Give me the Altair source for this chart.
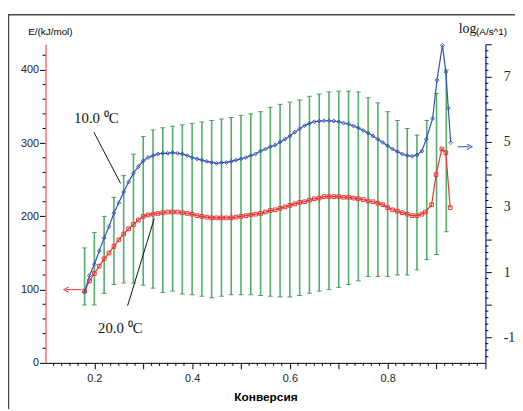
import altair as alt
import pandas as pd

# ---------------- data ----------------
blue_conv = [0.18, 0.19, 0.20, 0.21, 0.22, 0.23, 0.24, 0.25, 0.26, 0.27,
             0.28, 0.29, 0.30, 0.31, 0.32, 0.33, 0.34, 0.35, 0.36, 0.37,
             0.38, 0.39, 0.40, 0.41, 0.42, 0.43, 0.44, 0.45, 0.46, 0.47,
             0.48, 0.49, 0.50, 0.51, 0.52, 0.53, 0.54, 0.55, 0.56, 0.57,
             0.58, 0.59, 0.60, 0.61, 0.62, 0.63, 0.64, 0.65, 0.66, 0.67,
             0.68, 0.69, 0.70, 0.71, 0.72, 0.73, 0.74, 0.75, 0.76, 0.77,
             0.78, 0.79, 0.80, 0.81, 0.82, 0.83, 0.84, 0.85, 0.86,
             0.870, 0.879, 0.892, 0.901, 0.912, 0.919, 0.924, 0.929]
blue_logA = [0.38, 0.89, 1.24, 1.65, 2.05, 2.40, 2.81, 3.13, 3.46, 3.77,
             4.04, 4.24, 4.42, 4.52, 4.58, 4.63, 4.65, 4.65, 4.67, 4.65,
             4.63, 4.58, 4.52, 4.48, 4.44, 4.40, 4.37, 4.34, 4.36, 4.37,
             4.40, 4.44, 4.48, 4.52, 4.58, 4.63, 4.72, 4.78, 4.85, 4.90,
             5.00, 5.08, 5.18, 5.30, 5.40, 5.50, 5.57, 5.62, 5.64, 5.65,
             5.65, 5.64, 5.62, 5.58, 5.55, 5.49, 5.43, 5.35, 5.27, 5.18,
             5.08, 4.98, 4.88, 4.78, 4.70, 4.63, 4.58, 4.56, 4.60,
             4.72, 5.08, 5.72, 6.90, 7.97, 7.15, 6.04, 4.98]

red_conv = [0.18, 0.19, 0.20, 0.21, 0.22, 0.23, 0.24, 0.25, 0.26, 0.27,
            0.28, 0.29, 0.30, 0.31, 0.32, 0.33, 0.34, 0.35, 0.36, 0.37,
            0.38, 0.39, 0.40, 0.41, 0.42, 0.43, 0.44, 0.45, 0.46, 0.47,
            0.48, 0.49, 0.50, 0.51, 0.52, 0.53, 0.54, 0.55, 0.56, 0.57,
            0.58, 0.59, 0.60, 0.61, 0.62, 0.63, 0.64, 0.65, 0.66, 0.67,
            0.68, 0.69, 0.70, 0.71, 0.72, 0.73, 0.74, 0.75, 0.76, 0.77,
            0.78, 0.79, 0.80, 0.81, 0.82, 0.83, 0.84, 0.85, 0.86,
            0.870, 0.877, 0.890, 0.899, 0.911, 0.919, 0.928]
red_E = [98, 112, 122, 132, 142, 150, 159, 168, 176, 183,
         189, 195, 200, 202, 203, 204, 205, 206, 206, 206,
         205, 204, 203, 201, 200, 199, 198, 198, 198, 198,
         198, 199, 200, 201, 202, 203, 204, 206, 208, 209,
         211, 213, 215, 217, 219, 220, 222, 224, 225, 227,
         227, 227, 227, 226, 226, 225, 224, 223, 221, 220,
         218, 216, 212, 209, 207, 205, 203, 201, 201,
         203, 206, 216, 257, 292, 287, 212]

bar_conv = [0.18, 0.20, 0.22, 0.24, 0.26, 0.28, 0.30, 0.32, 0.34, 0.36,
            0.38, 0.40, 0.42, 0.44, 0.46, 0.48, 0.50, 0.52, 0.54, 0.56,
            0.58, 0.60, 0.62, 0.64, 0.66, 0.68, 0.70, 0.72, 0.74, 0.76,
            0.78, 0.80, 0.82, 0.84, 0.86, 0.88, 0.90, 0.92]
bar_top = [157, 178, 200, 226, 256, 285, 309, 318, 321, 323,
           325, 327, 329, 331, 333, 335, 338, 340, 343, 349,
           353, 356, 359, 364, 367, 370, 371, 371, 370, 362,
           355, 343, 331, 320, 311, 331, 368, 400]
bar_bottom = [79, 79, 95, 107, 109, 109, 106, 102, 96, 98,
              94, 93, 91, 89, 91, 93, 93, 93, 92, 91,
              90, 90, 92, 95, 98, 100, 103, 107, 112, 118,
              118, 118, 120, 120, 127, 141, 148, 179]

label_text = ["10.0 \u2070C", "20.0 \u2070C"]
label_conv = [0.204, 0.253]
label_E = [334, 47]
leader_conv = [0.199, 0.268]
leader_conv2 = [0.2537, 0.3225]
leader_E = [315, 78]
leader_E2 = [245, 197]

# axis tick positions
x_major = [0.2, 0.3, 0.4, 0.5, 0.6, 0.7, 0.8, 0.9, 1.0]
x_minor = [round(0.1 + k / 60, 5) for k in range(55) if k % 6 != 0]
yl_major = [0, 100, 200, 300, 400]
yl_minor = [v for v in range(20, 421, 20) if v % 100 != 0]
yr_major = [-1, 0, 1, 2, 3, 4, 5, 6, 7, 8]
yr_minor = [round(-1.6 + 0.2 * k, 2) for k in range(49) if k % 5 != 3]

# ---------------- tables ----------------
blue_df = pd.DataFrame({"conv": blue_conv, "logA": blue_logA})
red_df = pd.DataFrame({"conv": red_conv, "E": red_E})
bar_df = pd.DataFrame({"conv": bar_conv, "top": bar_top, "bottom": bar_bottom})
lab_df = pd.DataFrame({"conv": label_conv, "E": label_E, "text": label_text})
lead_df = pd.DataFrame({"conv": leader_conv, "conv2": leader_conv2,
                        "E": leader_E, "E2": leader_E2})
red_arrow_df = pd.DataFrame({"conv": [0.1728], "conv2": [0.1425], "E": [100]})
blue_arrow_df = pd.DataFrame({"conv": [0.9435], "conv2": [0.9678], "logA": [4.85]})
xminor_df = pd.DataFrame({"conv": x_minor})
ylminor_df = pd.DataFrame({"E": yl_minor})
yrminor_df = pd.DataFrame({"logA": yr_minor})
one = alt.Data(values=[{"a": 1}])

W, H = 446, 323
SANS = "Liberation Sans"
SERIF = "Liberation Serif"
RED = "#f03030"
BLUE = "#3050b8"
GREEN = "#52ad68"
DGREEN = "#1d7a30"

x_scale = alt.Scale(domain=[0.1, 1.0], nice=False, zero=False)
yl_scale = alt.Scale(domain=[0, 435], nice=False, zero=False)
yr_scale = alt.Scale(domain=[-1.79, 8.0], nice=False, zero=False)

x_axis = alt.Axis(
    values=x_major, grid=False, title="Конверсия",
    labelExpr="(datum.value > 0.15 && datum.value < 0.95 && abs(datum.value*5 - round(datum.value*5)) < 0.001) ? format(datum.value, '.1f') : ''",
    tickSize=6, labelOverlap=False, labelFlush=False, labelFont=SANS,
    labelFontSize=11, labelColor="#222", labelPadding=4, domainColor="#000",
    tickColor="#000", titleFont=SANS, titleFontSize=12, titleFontWeight="bold",
    titleColor="#000", titlePadding=8,
)
yl_axis = alt.Axis(
    values=yl_major, grid=False, orient="left", title="E/(kJ/mol)",
    tickSize=6, labelOverlap=False, labelFlush=False, labelFont=SANS,
    labelFontSize=11, labelColor="#222", labelPadding=1, domainColor="#ff6a6a",
    domainWidth=1.5, tickColor="#000", titleAngle=0, titleAlign="left",
    titleBaseline="middle", titleX=-18, titleY=-13, titleFont=SANS,
    titleFontSize=10, titleFontWeight="normal", titleColor="#000",
)
yr_axis = alt.Axis(
    values=yr_major, grid=False, orient="right", title="(A/s^1)",
    labelExpr="abs(round(datum.value) % 2) == 1 ? ('' + datum.value) : ''",
    tickSize=6, labelOverlap=False, labelFlush=False, labelFont=SERIF,
    labelFontSize=14, labelColor="#222", labelPadding=12, domainColor="#2a4ad0",
    domainWidth=1.5, tickColor="#000", titleAngle=0, titleAlign="left",
    titleBaseline="middle", titleX=-10, titleY=-13, titleFont=SANS,
    titleFontSize=10, titleFontWeight="normal", titleColor="#000",
)

# every layer shares the same x axis definition (x is a shared scale)
X = lambda f: alt.X(f, scale=x_scale, axis=x_axis)
yl = lambda f: alt.Y(f, scale=yl_scale, axis=None)
yr = lambda f: alt.Y(f, scale=yr_scale, axis=None)

# ---------------- axis carriers (invisible) ----------------
yl_axis_layer = alt.Chart(bar_df).mark_point(opacity=0).encode(
    x=X("conv:Q"), y=alt.Y("top:Q", scale=yl_scale, axis=yl_axis))
yr_axis_layer = alt.Chart(blue_df).mark_point(opacity=0).encode(
    x=X("conv:Q"), y=alt.Y("logA:Q", scale=yr_scale, axis=yr_axis))

# ---------------- left (E) layers ----------------
bars = alt.Chart(bar_df).mark_rule(color=GREEN, strokeWidth=1.6).encode(
    x=X("conv:Q"), y=yl("top:Q"), y2="bottom:Q")
cap_top = alt.Chart(bar_df).mark_tick(color=DGREEN, orient="horizontal", size=5, thickness=1).encode(
    x=X("conv:Q"), y=yl("top:Q"))
cap_bot = alt.Chart(bar_df).mark_tick(color=DGREEN, orient="horizontal", size=5, thickness=1).encode(
    x=X("conv:Q"), y=yl("bottom:Q"))
red_line = alt.Chart(red_df).mark_line(color=RED, strokeWidth=1.2).encode(
    x=X("conv:Q"), y=yl("E:Q"))
red_pts = alt.Chart(red_df).mark_point(shape="square", filled=False, color=RED,
                                       size=14, strokeWidth=1, opacity=1).encode(
    x=X("conv:Q"), y=yl("E:Q"))
leaders = alt.Chart(lead_df).mark_rule(color="#111", strokeWidth=1).encode(
    x=X("conv:Q"), x2="conv2:Q", y=yl("E:Q"), y2="E2:Q")
labels = alt.Chart(lab_df).mark_text(font=SERIF, fontSize=15, color="#111",
                                     align="center", baseline="middle").encode(
    x=X("conv:Q"), y=yl("E:Q"), text="text:N")
red_arrow = alt.Chart(red_arrow_df).mark_rule(color=RED, strokeWidth=1).encode(
    x=X("conv:Q"), x2="conv2:Q", y=yl("E:Q"))
red_head = alt.Chart(red_arrow_df).mark_point(shape="M1,-1L-1,0L1,1", filled=False,
                                              color=RED, size=30, strokeWidth=1, opacity=1).encode(
    x=X("conv2:Q"), y=yl("E:Q"))
yl_minor_ticks = alt.Chart(ylminor_df).mark_rule(color="#000", strokeWidth=1, clip=False).encode(
    x=alt.value(0), x2=alt.value(-3), y=yl("E:Q"))
x_minor_ticks = alt.Chart(xminor_df).mark_rule(color="#000", strokeWidth=1, clip=False).encode(
    x=X("conv:Q"), y=alt.value(H), y2=alt.value(H + 3))

# ---------------- right (log A) layers ----------------
blue_line = alt.Chart(blue_df).mark_line(color=BLUE, strokeWidth=1.2).encode(
    x=X("conv:Q"), y=yr("logA:Q"))
blue_pts = alt.Chart(blue_df).mark_point(shape="diamond", filled=False, color=BLUE,
                                         size=16, strokeWidth=1, opacity=0.9).encode(
    x=X("conv:Q"), y=yr("logA:Q"))
blue_arrow = alt.Chart(blue_arrow_df).mark_rule(color=BLUE, strokeWidth=1).encode(
    x=X("conv:Q"), x2="conv2:Q", y=yr("logA:Q"))
blue_head = alt.Chart(blue_arrow_df).mark_point(shape="M-1,-1L1,0L-1,1", filled=False,
                                                color=BLUE, size=30, strokeWidth=1, opacity=1).encode(
    x=X("conv2:Q"), y=yr("logA:Q"))
yr_minor_ticks = alt.Chart(yrminor_df).mark_rule(color="#000", strokeWidth=1, clip=False).encode(
    x=alt.value(W), x2=alt.value(W + 3), y=yr("logA:Q"))

# ---------------- decorations ----------------
log_txt = alt.Chart(one).mark_text(text="log", font=SERIF, fontSize=14, color="#111",
                                   align="left", baseline="alphabetic").encode(
    x=alt.value(419), y=alt.value(-11))
frame_top = alt.Chart(one).mark_rule(color="#4a4a4a", strokeWidth=1.5).encode(
    x=alt.value(-38), x2=alt.value(480), y=alt.value(-30))
frame_left = alt.Chart(one).mark_rule(color="#4a4a4a", strokeWidth=1.5).encode(
    x=alt.value(-37.5), y=alt.value(-30), y2=alt.value(370))

chart = alt.layer(
    yl_axis_layer, yr_axis_layer,
    bars, cap_top, cap_bot, red_line, red_pts, leaders, labels, red_arrow, red_head,
    yl_minor_ticks, x_minor_ticks,
    blue_line, blue_pts, blue_arrow, blue_head, yr_minor_ticks,
    log_txt, frame_top, frame_left,
).resolve_scale(
    y="independent"
).properties(
    width=W, height=H,
    autosize=alt.AutoSizeParams(type="none"),
    padding={"left": 38, "top": 34, "right": 30, "bottom": 44},
    background="white",
).configure_view(stroke=None)

chart.save("out.html", embed_options={"renderer": "svg", "actions": False})
